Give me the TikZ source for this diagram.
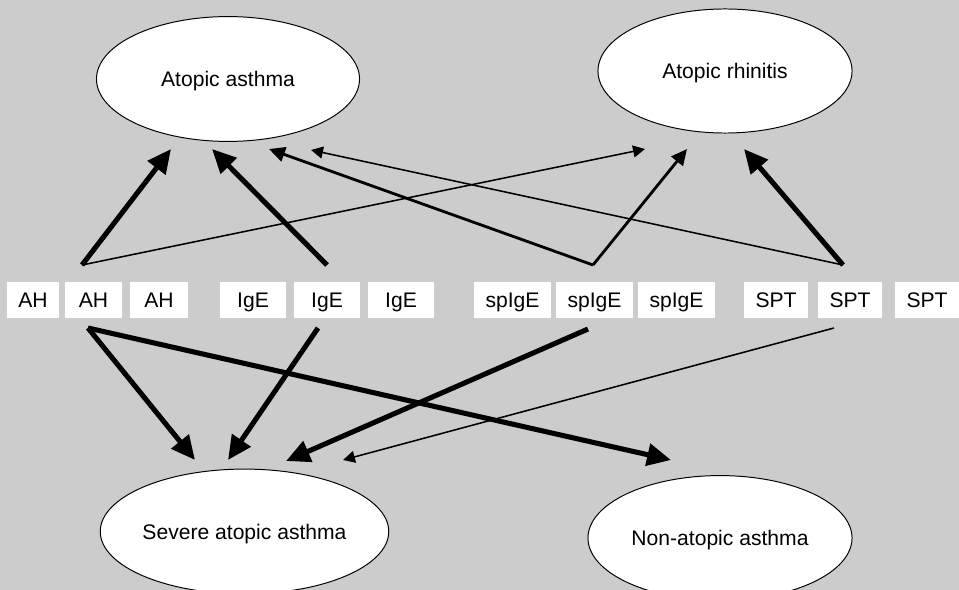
\documentclass[tikz,border=0pt]{standalone}
\usepackage{fontspec}
\setmainfont{Liberation Sans}
\usetikzlibrary{shapes.geometric,arrows.meta,positioning}
\definecolor{panelgray}{RGB}{204,204,204}

\begin{document}
\begin{tikzpicture}[
  x=0.025cm, y=-0.025cm,
  outcome/.style={
    ellipse, draw=black, fill=white, line width=0.7pt,
    inner sep=0pt, minimum width=6.5cm, minimum height=3.12cm,
    text height=10.7pt, text depth=0pt,
    font=\fontsize{15}{18}\selectfont
  },
  marker/.style={
    rectangle, fill=white, inner sep=0pt,
    minimum height=0.9cm, text height=10.7pt, text depth=0pt,
    font=\fontsize{15}{18}\selectfont
  },
  strong/.style={line width=3.6pt, -{Triangle[length=17pt,width=15.5pt]}},
  medium/.style={line width=2pt, -{Triangle[length=11.3pt,width=10.5pt]}},
  weak/.style={line width=1.1pt, -{Triangle[length=8.5pt,width=8.5pt]}}
]
\fill[panelgray] (0,0) rectangle (959,590);
\useasboundingbox (0,0) rectangle (959,590);
\clip (0,0) rectangle (959,590);

% Nós
\node[outcome, minimum width=6.575cm] (asthma)    at (228, 79)  {Atopic asthma};
\node[outcome, minimum width=6.35cm, minimum height=3.1cm] (rhinitis) at (725, 71) {Atopic rhinitis};
\node[outcome, minimum width=6.575cm] (severe)    at (244.5, 531.5) {Severe atopic asthma};
\node[outcome, minimum width=6.6cm]   (nonatopic) at (720, 538) {Non-atopic asthma};

\node[marker, minimum width=1.3cm]   (ah1)  at (33, 300)    {AH};
\node[marker, minimum width=1.425cm] (ah2)  at (93.5, 300)  {AH};
\node[marker, minimum width=1.45cm]  (ah3)  at (159, 300)   {AH};
\node[marker, minimum width=1.65cm]  (ige1) at (253, 300)   {IgE};
\node[marker, minimum width=1.65cm]  (ige2) at (327, 300)   {IgE};
\node[marker, minimum width=1.65cm]  (ige3) at (401, 300)   {IgE};
\node[marker, minimum width=1.925cm] (sp1)  at (512.5, 300) {spIgE};
\node[marker, minimum width=1.925cm] (sp2)  at (594.5, 300) {spIgE};
\node[marker, minimum width=1.925cm] (sp3)  at (676.5, 300) {spIgE};
\node[marker, minimum width=1.6cm]   (spt1) at (776, 300)   {SPT};
\node[marker, minimum width=1.6cm]   (spt2) at (850, 300)   {SPT};
\node[marker, minimum width=1.6cm]   (spt3) at (927, 300)   {SPT};

% Pontos de saída e de chegada
\coordinate (ah2up)   at (82, 265);
\coordinate (ah2dn)   at (88, 328);
\coordinate (ige2up)  at (327, 265);
\coordinate (ige2dn)  at (318, 328);
\coordinate (sp2up)   at (593, 265);
\coordinate (sp2dn)   at (588, 329);
\coordinate (spt2up)  at (843, 265);
\coordinate (spt2dn)  at (834, 328);

\coordinate (asthmaA)   at (171, 149);
\coordinate (asthmaB)   at (212, 149);
\coordinate (asthmaC)   at (269, 149);
\coordinate (asthmaD)   at (311, 150);
\coordinate (rhinitisA) at (645, 149);
\coordinate (rhinitisB) at (687, 149);
\coordinate (rhinitisC) at (744, 149);
\coordinate (severeA)   at (195, 460);
\coordinate (severeB)   at (228, 460);
\coordinate (severeC)   at (286, 461);
\coordinate (severeD)   at (343, 460);
\coordinate (nonatopicA) at (671, 460);

% Ligações
\draw[strong] (ah2up)  -- (asthmaA);
\draw[weak]   (ah2up)  -- (rhinitisA);
\draw[strong] (ige2up) -- (asthmaB);
\draw[medium] (sp2up)  -- (asthmaC);
\draw[medium] (sp2up)  -- (rhinitisB);
\draw[weak]   (spt2up) -- (asthmaD);
\draw[strong] (spt2up) -- (rhinitisC);

\draw[strong] (ah2dn)  -- (severeA);
\draw[strong] (ah2dn)  -- (nonatopicA);
\draw[strong] (ige2dn) -- (severeB);
\draw[strong] (sp2dn)  -- (severeC);
\draw[weak]   (spt2dn) -- (severeD);

\end{tikzpicture}
\end{document}
